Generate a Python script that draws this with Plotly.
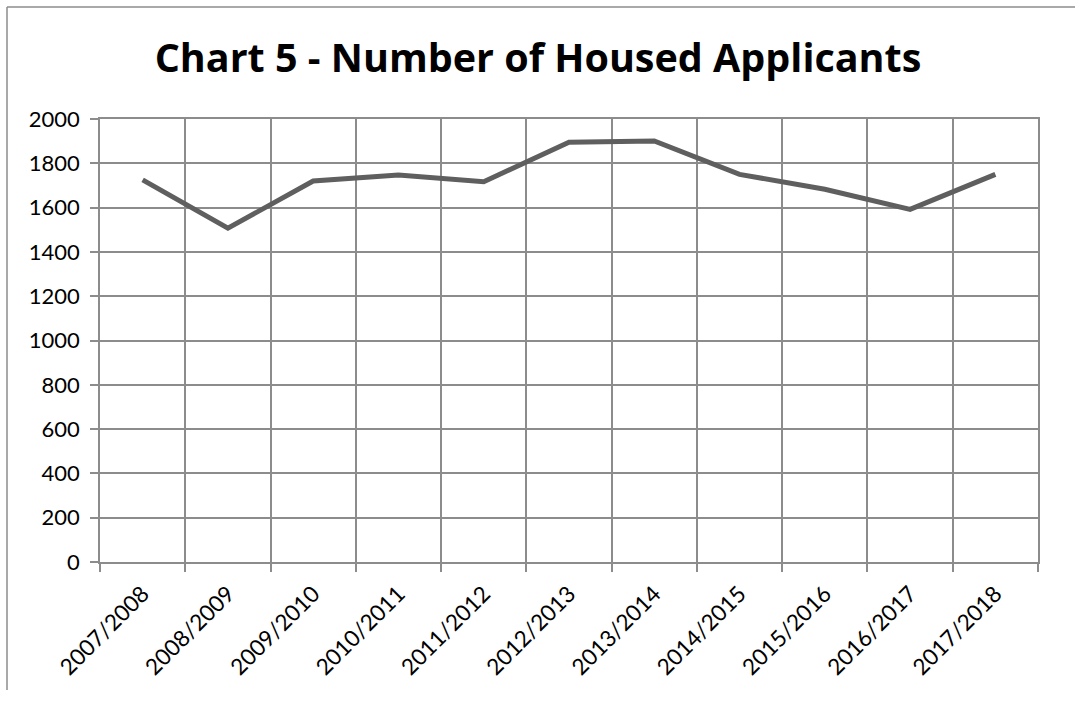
import plotly.graph_objects as go

categories = ["2007/2008", "2008/2009", "2009/2010", "2010/2011", "2011/2012",
              "2012/2013", "2013/2014", "2014/2015", "2015/2016", "2016/2017", "2017/2018"]
housed = [1725, 1507, 1720, 1747, 1717, 1895, 1901, 1750, 1683, 1592, 1750]
y_ticks = [0, 200, 400, 600, 800, 1000, 1200, 1400, 1600, 1800, 2000]

W, H = 1075, 702
L, R, T, B = 100, 37, 119, 140
pw, ph = W - L - R, H - T - B

fig = go.Figure()
fig.add_trace(go.Scatter(x=categories, y=housed, mode="lines",
                         line=dict(color="#5f5f5f", width=5), showlegend=False,
                         hoverinfo="skip"))

grid = "#8c8c8c"
fig.update_layout(
    width=W, height=H,
    margin=dict(l=L, r=R, t=T, b=B),
    paper_bgcolor="white", plot_bgcolor="white",
    font=dict(family="Lato, Open Sans, sans-serif", color="black", size=22),
    title=dict(text="<b>Chart 5 - Number of Housed Applicants</b>",
               x=538 / W, xanchor="center", y=1 - 58 / H, yanchor="middle",
               font=dict(size=39.5, family="Open Sans, Lato, sans-serif", color="black")),
    xaxis=dict(type="category", range=[-0.5, 10.5], tickson="boundaries",
               showgrid=True, gridcolor=grid, gridwidth=1.5,
               ticks="outside", ticklen=8, tickcolor=grid, tickwidth=1.5,
               showline=True, linecolor=grid, linewidth=1.5, mirror=True,
               tickangle=-45, tickfont=dict(size=22.5), ticklabelstandoff=8,
               zeroline=False),
    yaxis=dict(range=[0, 2000], tickvals=y_ticks, showgrid=True, gridcolor=grid,
               gridwidth=1.5, ticks="outside", ticklen=8, tickcolor=grid, tickwidth=1.5,
               showline=True, linecolor=grid, linewidth=1.5, mirror=True,
               tickfont=dict(size=22), ticklabelstandoff=6, zeroline=False),
)

# outer frame (left and top edges visible)
fx0 = (7 - L) / pw
fy_top = 1 + (T - 7) / ph
fy_bot = 1 - (690 - T) / ph
fig.add_shape(type="line", xref="paper", yref="paper", x0=fx0, x1=fx0,
              y0=fy_bot, y1=fy_top, line=dict(color="#8c8c8c", width=1.5))
fig.add_shape(type="line", xref="paper", yref="paper", x0=fx0, x1=(W - L) / pw,
              y0=fy_top, y1=fy_top, line=dict(color="#8c8c8c", width=1.5))

fig.write_html("out.html", config={"displayModeBar": False},
               post_script="document.body.style.margin='0';")
